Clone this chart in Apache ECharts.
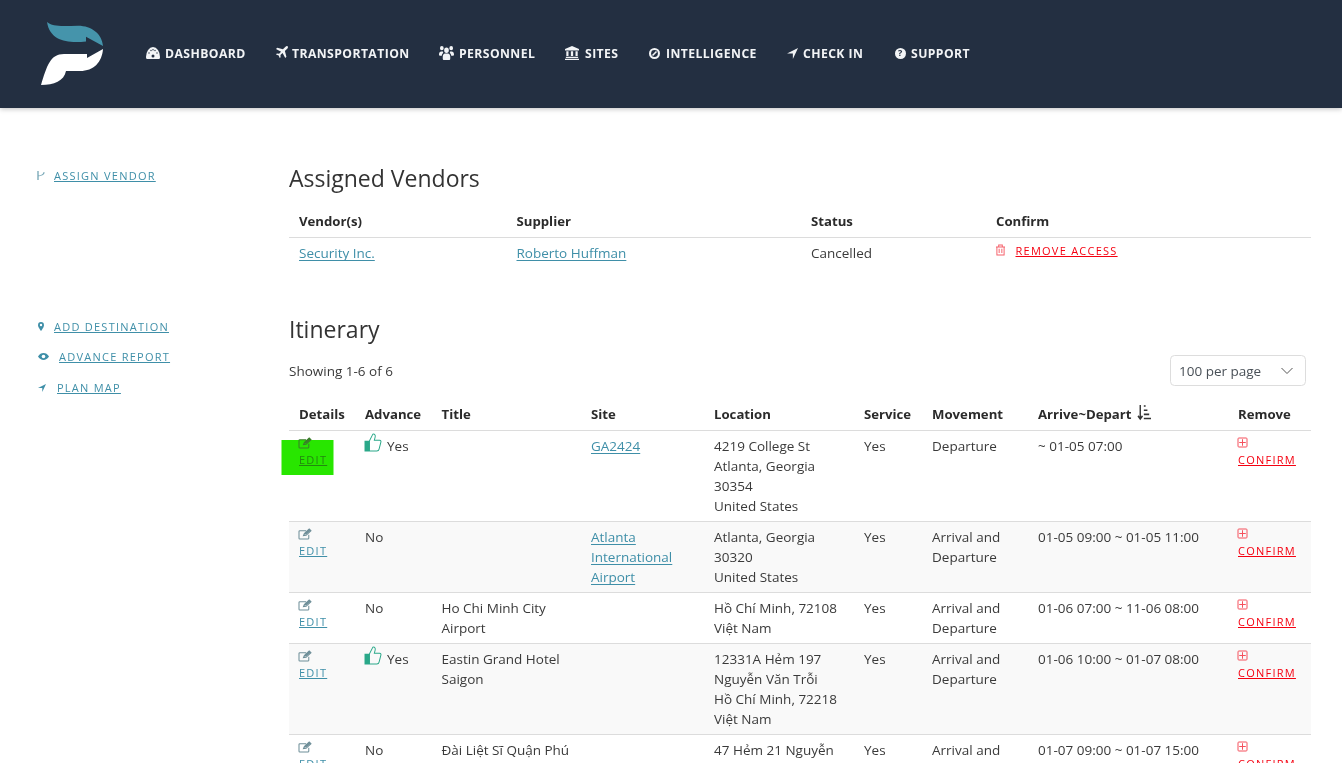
<!DOCTYPE html>
<html>
<head>
<meta charset="utf-8">
<title>Itinerary</title>
<script src="https://cdn.jsdelivr.net/npm/echarts@6/dist/echarts.min.js"></script>
<style>
  html, body { margin: 0; padding: 0; background: #fff; overflow: hidden; }
  #main { width: 1342px; height: 763px; }
</style>
</head>
<body>
<div id="main"></div>
<script>
// page text
const navLabels = ["DASHBOARD", "TRANSPORTATION", "PERSONNEL", "SITES", "INTELLIGENCE", "CHECK IN", "SUPPORT"];
const sideLinks = ["ASSIGN VENDOR", "ADD DESTINATION", "ADVANCE REPORT", "PLAN MAP"];
const vendorHeaders = ["Vendor(s)", "Supplier", "Status", "Confirm"];
const vendorRow = ["Security Inc.", "Roberto Huffman", "Cancelled", "REMOVE ACCESS"];
const itineraryHeaders = ["Details", "Advance", "Title", "Site", "Location", "Service", "Movement", "Arrive~Depart", "Remove"];
const advance = ["Yes", "No", "No", "Yes", "No"];
const titles = ["", "", "Ho Chi Minh City\nAirport", "Eastin Grand Hotel\nSaigon", "Đài Liệt Sĩ Quận Phú\nNhuận"];
const sites = ["GA2424", "Atlanta\nInternational\nAirport", "", "", ""];
const locations = [
  "4219 College St\nAtlanta, Georgia\n30354\nUnited States",
  "Atlanta, Georgia\n30320\nUnited States",
  "Hồ Chí Minh, 72108\nViệt Nam",
  "12331A Hẻm 197\nNguyễn Văn Trỗi\nHồ Chí Minh, 72218\nViệt Nam",
  "47 Hẻm 21 Nguyễn\nVăn Trỗi",
];
const service = ["Yes", "Yes", "Yes", "Yes", "Yes"];
const movement = ["Departure", "Arrival and\nDeparture", "Arrival and\nDeparture", "Arrival and\nDeparture", "Arrival and\nDeparture"];
const arriveDepart = ["~ 01-05 07:00", "01-05 09:00 ~ 01-05 11:00", "01-06 07:00 ~ 11-06 08:00", "01-06 10:00 ~ 01-07 08:00", "01-07 09:00 ~ 01-07 15:00"];

// layout
const FONT = '"Open Sans", sans-serif';
const LINK = "#3f8fa8", RED = "#f50010", BODY = "#3a3a3a", RULE = "#dcdcdc", NAVY = "#232f41";
const BODY_SIZE = 13.5, HEAD_SIZE = 13.2, TITLE_SIZE = 23;
const navIconX = [146, 276, 439, 565, 649, 787, 895];
const navTextX = [165, 292, 459, 585, 666, 803, 911];
const sideX = [54, 54, 59, 57];
const sideY = [176, 327, 357, 388];
const vendorX = [299, 516.5, 811, 996];
const colX = [299, 365, 441.5, 591, 714, 864, 932, 1038, 1238];
const rowTop = [431, 522, 593, 644, 735];
const NAV_SPACING = 0.42, LINK_SPACING = 1.25;

const ICONS = {
  logoTop: "M47 22C53 28 66 26 78 26C92 26 102 35 103 48L86 38V43C68 45 50 43 47 22Z",
  logoBottom: "M103 49L87 58V54H64C50 54 47 66 41 85C54 85 64 81 66 71H80C94 71 102 62 103 49Z",
  gauge: "M0 13A8 8 0 1 1 16 13C16 14 15.5 14.5 15 14.5H1C.5 14.5 0 14 0 13Z",
  plane: "M15 .5C16 1.5 15.5 3 14.5 4L11.5 7 13.5 14.5 12 16 8.5 9.5 5.8 12 6 15 4.8 16 3.5 12.7 0 11.4 1.1 10.2 4 10.4 6.6 7.7 0 4.2 1.5 2.7 9 4.5 12 1.5C13 .5 14.2 0 15 .5Z",
  users: "M8 2.5A2.5 2.5 0 1 1 8 7.5 2.5 2.5 0 0 1 8 2.5ZM3 1A2 2 0 1 1 3 5 2 2 0 0 1 3 1ZM13 1A2 2 0 1 1 13 5 2 2 0 0 1 13 1ZM0 9C0 7 1 6 2.5 6H4.2L4.5 7.5C3.5 8 3 9 3 10H.8C.3 10 0 9.5 0 9ZM16 9C16 9.5 15.7 10 15.2 10H13C13 9 12.5 8 11.5 7.5L11.8 6H13.5C15 6 16 7 16 9ZM4 11C4 9.3 5 8 6.5 8H9.5C11 8 12 9.3 12 11V12.5C12 13.5 11.5 14 10.5 14H5.5C4.5 14 4 13.5 4 12.5Z",
  bank: "M8 0L16 3.5V5H0V3.5ZM1.5 6H4V11.5H1.5ZM6.7 6H9.3V11.5H6.7ZM12 6H14.5V11.5H12ZM1 12.3H15V13.8H1ZM0 14.5H16V16H0Z",
  arrow: "M16 0L9 16V8H1Z",
  circle: "M8 0A8 8 0 1 1 8 16 8 8 0 0 1 8 0Z",
  marker: "M5 0A5 5 0 0 1 10 5C10 8 5 14 5 14S0 8 0 5A5 5 0 0 1 5 0Z",
  eye: "M0 6C2 2 5 0 8 0S14 2 16 6C14 10 11 12 8 12S2 10 0 6Z",
  branch: "M1 0V14M1 8C5 7 6 5 6 2",
  edit: "M9 3H2C1.3 3 1 3.3 1 4V12C1 12.7 1.3 13 2 13H11C11.7 13 12 12.7 12 12V8M6 9L7 6.5 12.5 1 14.5 3 9 8.5Z",
  pencil: "M6 9.5L7 6.5 12.5 1 14.5 3 9 8.5Z",
  plus: "M1.5 .5H10.5C11.1 .5 11.5 .9 11.5 1.5V10.5C11.5 11.1 11.1 11.5 10.5 11.5H1.5C.9 11.5 .5 11.1 .5 10.5V1.5C.5 .9 .9 .5 1.5 .5ZM6 2V10M2 6H10",
  trash: "M1 3H11M4 3V1H8V3M2 3V11.5H10V3M4.5 5V9.5M7.5 5V9.5",
  thumb: "M5 7L8 1.5C9.5 1 10.5 2.5 10 4L9.3 6.5H14C15 6.5 15.5 7.5 15 8.5L13.5 14C13.3 15 12.5 15.5 11.5 15.5H5ZM1 7.5H5V15.5H1Z",
  sort: "M3 0V13M.5 10.5L3 13.5 5.5 10.5M7 1H9M7 5H11M7 9H13M7 13H15",
};
const iconBox = {};
Object.keys(ICONS).forEach((name) => {
  echarts.graphic.registerShape("icon_" + name, echarts.graphic.extendPath(ICONS[name], {}));
  iconBox[name] = echarts.graphic.makePath(ICONS[name], {}).getBoundingRect();
});

// measure a string with the same letter spacing the canvas layer will use
const measureCtx = document.createElement("canvas").getContext("2d");
function textWidth(text, font, spacing) {
  measureCtx.font = font;
  measureCtx.letterSpacing = spacing + "px";
  return measureCtx.measureText(text).width;
}

const elements = [];

function rect(x, y, width, height, fill, extra) {
  elements.push({ type: "rect", shape: { x, y, width, height, r: (extra && extra.r) || 0 }, style: Object.assign({ fill }, extra && extra.style), z: (extra && extra.z) || 1 });
}
function hline(x1, x2, y, stroke, lineWidth) {
  elements.push({ type: "line", shape: { x1, y1: y, x2, y2: y }, style: { stroke, lineWidth: lineWidth || 1 }, z: 2 });
}
function label(text, x, y, opts) {
  const o = opts || {};
  const size = o.size || BODY_SIZE;
  elements.push({
    type: "text", x, y: y - 9, zlevel: o.zlevel || 0, z: 3,
    style: { text, fill: o.fill || BODY, font: (o.weight || 400) + " " + size + "px " + FONT, lineHeight: 20, verticalAlign: "top" },
  });
}
function icon(name, x, y, w, h, style, z) {
  const box = iconBox[name];
  const sx = w / box.width, sy = h / box.height;
  elements.push({
    type: "icon_" + name, z: z || 3,
    x: x - box.x * sx, y: y - box.y * sy, scaleX: sx, scaleY: sy,
    style: Object.assign({ fill: "none", strokeNoScale: true }, style),
  });
}
function dot(cx, cy, r, fill) {
  elements.push({ type: "circle", z: 4, shape: { cx, cy, r }, style: { fill } });
}
function upperLink(text, x, y, color) {
  const font = "400 11px " + FONT;
  label(text, x, y, { size: 11, fill: color, zlevel: 2 });
  hline(x, x + textWidth(text, font, LINK_SPACING), y + 5.5, color);
}
function textLink(text, x, y) {
  label(text, x, y, { fill: LINK });
  text.split("\n").forEach((line, k) => {
    hline(x, x + textWidth(line, BODY_SIZE + "px " + FONT, 0), y + 7.5 + k * 20, LINK);
  });
}

// header bar
rect(0, 0, 1342, 108, NAVY, { z: 1, style: { shadowBlur: 5, shadowColor: "rgba(0,0,0,0.25)", shadowOffsetY: 1 } });
icon("logoTop", 47, 22, 56, 24, { fill: "#4594ab" });
icon("logoBottom", 41, 49, 62, 36, { fill: "#ffffff" });

navLabels.forEach((text, i) => {
  label(text, navTextX[i], 54, { size: 12.2, weight: 700, fill: "#f2f4f6", zlevel: 1 });
});
const W = { fill: "#f2f4f6" };
icon("gauge", navIconX[0], 47, 14, 12, W);
[[149, 53], [151, 50.5], [153, 49.8], [155, 50.5], [157, 53]].forEach((p) => dot(p[0], p[1], 0.7, NAVY));
dot(153, 56, 1.5, NAVY);
icon("plane", navIconX[1], 46, 12, 12, W);
icon("users", navIconX[2], 46, 15, 14, W);
icon("bank", navIconX[3], 46, 14, 14, W);
icon("circle", navIconX[4], 48, 11, 11, W);
dot(654.5, 53.5, 3.4, NAVY);
elements.push({ type: "line", z: 5, shape: { x1: 652.5, y1: 55.5, x2: 656.5, y2: 51.5 }, style: { stroke: "#f2f4f6", lineWidth: 1.6 } });
icon("arrow", navIconX[5], 48, 11, 11, W);
icon("circle", navIconX[6], 48, 11, 11, W);
elements.push({ type: "text", z: 5, x: 898, y: 48.5, style: { text: "?", fill: NAVY, font: "700 9px " + FONT, verticalAlign: "top" } });

// left column
sideLinks.forEach((text, i) => upperLink(text, sideX[i], sideY[i], LINK));
icon("branch", 38, 171, 6, 9, { stroke: "#7aa9b8", lineWidth: 1 });
icon("marker", 38, 322, 6, 9, { fill: LINK });
dot(41, 325, 1.2, "#fff");
icon("eye", 38, 353, 11, 7, { fill: LINK });
dot(43.5, 356.5, 1.8, "#fff");
icon("arrow", 38, 384, 8, 8, { fill: LINK });

// assigned vendors
label("Assigned Vendors", 289, 179, { size: TITLE_SIZE, fill: "#333" });
vendorHeaders.forEach((text, i) => label(text, vendorX[i], 221, { size: HEAD_SIZE, weight: 700, fill: "#2b2b2b" }));
hline(289, 1311, 237.5, RULE);
textLink(vendorRow[0], vendorX[0], 253);
textLink(vendorRow[1], vendorX[1], 253);
label(vendorRow[2], vendorX[2], 253);
icon("trash", 996, 245, 9, 10, { stroke: "#f5606a", lineWidth: 1 });
upperLink(vendorRow[3], 1015.5, 251, RED);

// itinerary heading and page size select
label("Itinerary", 289, 330, { size: TITLE_SIZE, fill: "#333" });
label("Showing 1-6 of 6", 289, 371);
rect(1170.5, 355.5, 135, 30, "#fff", { r: 4, style: { stroke: "#dddddd", lineWidth: 1 } });
label("100 per page", 1179, 371, { fill: "#495057" });
elements.push({ type: "polyline", z: 3, shape: { points: [[1281.5, 368], [1287, 373.5], [1292.5, 368]] }, style: { stroke: "#555", lineWidth: 1, fill: "none" } });

// itinerary table
itineraryHeaders.forEach((text, i) => label(text, colX[i], 414, { size: HEAD_SIZE, weight: 700, fill: "#2b2b2b" }));
icon("sort", 1138, 405, 13, 14, { stroke: "#333", lineWidth: 1.5 });
hline(289, 1311, 430.5, RULE);
const rowBottom = [521.5, 592.5, 643.5, 734.5];
[1, 3].forEach((r) => rect(289, rowTop[r], 1022, rowBottom[r] - rowTop[r], "#f9f9f9"));
rowBottom.forEach((y) => hline(289, 1311, y, RULE));

// green marker over the first edit link
rect(281.5, 440, 52, 35, "#28e600", { z: 2 });

rowTop.forEach((top, r) => {
  const y = top + 15;
  const editColor = r === 0 ? "#23890f" : LINK;
  const editIcon = r === 0 ? "#3a7d2a" : "#6f8f99";
  icon("edit", 299, top + 7, 12, 10, { stroke: editIcon, lineWidth: 1 });
  icon("pencil", 304, top + 7, 7, 6, { fill: editIcon }, 4);
  upperLink("EDIT", 299, top + 29, editColor);
  if (advance[r] === "Yes") {
    icon("thumb", 365, top + 3, 16, 17, { stroke: "#2aa889", lineWidth: 1 });
    rect(365, top + 10, 4, 10, "#2aa889", { z: 4 });
    label(advance[r], 387, y);
  } else {
    label(advance[r], colX[1], y);
  }
  if (titles[r]) label(titles[r], colX[2], y);
  if (sites[r]) textLink(sites[r], colX[3], y);
  label(locations[r], colX[4], y);
  label(service[r], colX[5], y);
  label(movement[r], colX[6], y);
  label(arriveDepart[r], colX[7], y);
  icon("plus", 1238, top + 7, 9, 9, { stroke: "#f5505c", lineWidth: 1 });
  upperLink("CONFIRM", 1238, top + 29, RED);
});

const chart = echarts.init(document.getElementById("main"), null, { renderer: "canvas" });

// spaced uppercase text lives on its own canvas layers
const painter = chart.getZr().painter;
painter.getLayer(1).ctx.letterSpacing = NAV_SPACING + "px";
painter.getLayer(2).ctx.letterSpacing = LINK_SPACING + "px";

chart.setOption({
  animation: false,
  backgroundColor: "#ffffff",
  graphic: { elements },
});

window.addEventListener("resize", () => chart.resize());
</script>
</body>
</html>
